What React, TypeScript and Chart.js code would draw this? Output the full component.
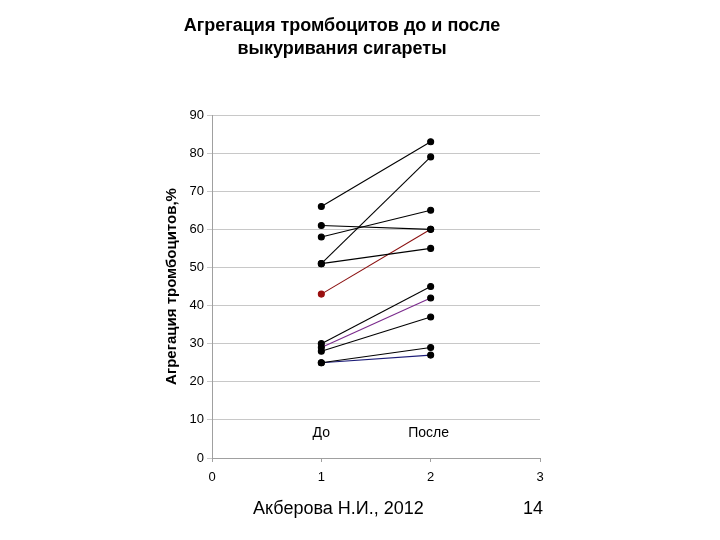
import { Chart, registerables } from 'chart.js';
import { useEffect, useRef } from 'react';

Chart.register(...registerables);

// values: aggregation (%) before (x=1) and after (x=2) smoking
const before = [66, 61, 58, 51, 51, 43, 30, 29, 28, 25, 25];
const after = [83, 60, 65, 79, 55, 60, 45, 42, 37, 29, 27];
const lineColors = ['#000', '#000', '#000', '#000', '#000', '#8b1010', '#000', '#7a2a8c', '#000', '#000', '#1c1c78'];
const pointColors = ['#000', '#000', '#000', '#000', '#000', '#9a0f0f', '#000', '#000', '#000', '#000', '#000'];
const groupLabels = ['До', 'После'];
const groupX = [1, 2];
const groupLabelY = 7;

const FONT = '"Liberation Sans", Arial, sans-serif';

const groupLabelPlugin = {
  id: 'groupLabels',
  afterDatasetsDraw(chart: any) {
    const { ctx, scales } = chart;
    ctx.save();
    ctx.font = '14px ' + FONT;
    ctx.fillStyle = '#000';
    ctx.textAlign = 'center';
    ctx.textBaseline = 'middle';
    groupLabels.forEach((t, i) => {
      ctx.fillText(t, scales.x.getPixelForValue(groupX[i]) - i * 2, scales.y.getPixelForValue(groupLabelY) + 2);
    });
    ctx.restore();
  }
};

const PlateletChart = () => {
  const chartRef = useRef<HTMLCanvasElement>(null);

  useEffect(() => {
    const datasets = before.map((b, i) => ({
      label: 'p' + (i + 1),
      data: [{ x: 1, y: b }, { x: 2, y: after[i] }],
      borderColor: lineColors[i],
      borderWidth: 1.1,
      pointBackgroundColor: [pointColors[i], '#000'],
      pointBorderColor: [pointColors[i], '#000'],
      pointRadius: 3,
      showLine: true,
      fill: false
    }));

    const myChart = new Chart(chartRef.current!, {
      type: 'scatter',
      data: { datasets },
      options: {
        animation: false,
        responsive: true,
        maintainAspectRatio: false,
        layout: { padding: { left: 144, right: 180, top: 0, bottom: 52 } },
        plugins: {
          legend: { display: false },
          tooltip: { enabled: false },
          title: {
            display: true,
            text: ['Агрегация тромбоцитов до и после', 'выкуривания сигареты'],
            color: '#000',
            font: { family: FONT, size: 18, weight: 'bold', lineHeight: 1.25 },
            padding: { top: 15, bottom: 55 }
          }
        },
        scales: {
          x: {
            type: 'linear',
            min: 0,
            max: 3,
            ticks: { stepSize: 1, color: '#000', font: { family: FONT, size: 13 }, padding: 8 },
            grid: { drawOnChartArea: false, drawTicks: true, tickLength: 4, color: '#a0a0a0' },
            border: { color: '#a0a0a0' },
            afterFit: (s: any) => { s.height = 30; }
          },
          y: {
            min: 0,
            max: 90,
            ticks: { stepSize: 10, color: '#000', font: { family: FONT, size: 13 }, padding: 3 },
            grid: { color: '#c8c8c8', tickLength: 5 },
            border: { color: '#a0a0a0' },
            title: {
              display: true,
              text: 'Агрегация тромбоцитов,%',
              color: '#000',
              font: { family: FONT, size: 15, weight: 'bold' },
              padding: { top: 19, bottom: 0 }
            },
            afterFit: (s: any) => { s.width = 68; }
          }
        }
      },
      plugins: [groupLabelPlugin]
    });

    return () => {
      if (myChart) {
        myChart.destroy();
      }
    };
  }, []);

  return <canvas ref={chartRef}></canvas>;
};

export default function App() {
  return (
    <div style={{ position: 'absolute', left: 0, top: 0, width: 720, height: 540, background: '#fff', fontFamily: FONT }}>
      <PlateletChart />
      <div style={{ position: 'absolute', left: 253, top: 498, fontSize: 18, color: '#000', whiteSpace: 'nowrap' }}>
        Акберова Н.И., 2012
      </div>
      <div style={{ position: 'absolute', right: 177, top: 498, fontSize: 18, color: '#000' }}>14</div>
    </div>
  );
}
